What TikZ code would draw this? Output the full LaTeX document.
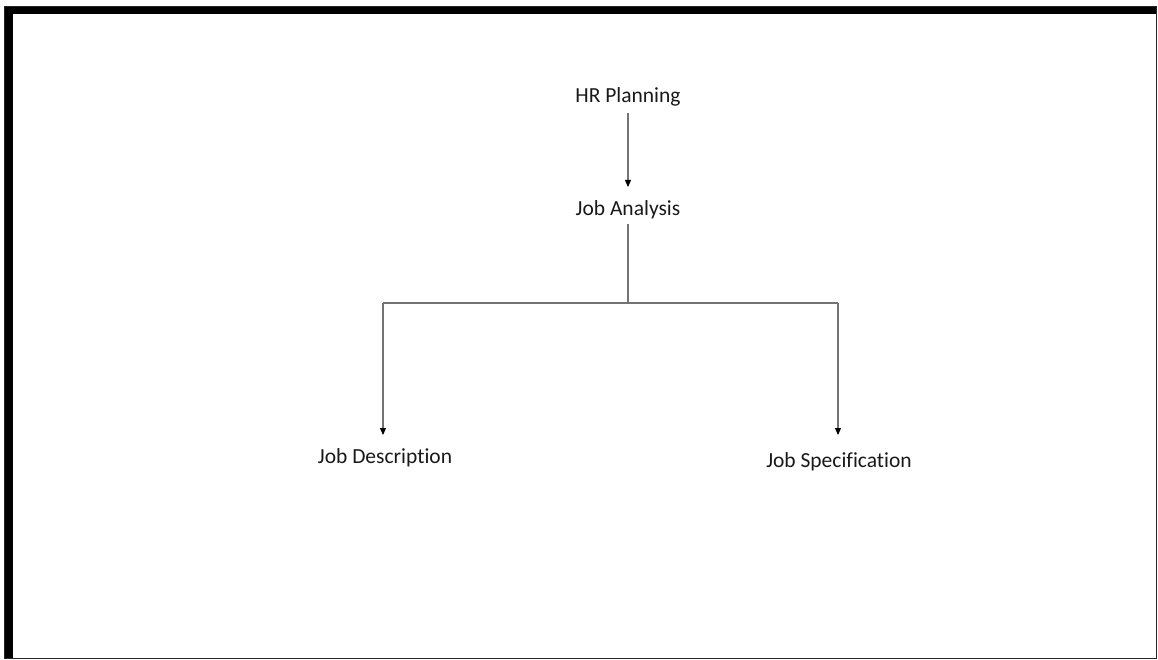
\documentclass[tikz,border=0pt]{standalone}
\usepackage{fontspec}
\setmainfont{Carlito}[Ligatures=NoCommon]
\usetikzlibrary{arrows.meta}
\begin{document}
\begin{tikzpicture}[x=1pt,y=-1pt,
  lbl/.style={inner sep=0pt, font=\fontsize{21.5}{25}\selectfont, text=black!90, anchor=base},
  conn/.style={draw=black!55, line width=1.1pt},
  arr/.style={conn, -{Triangle[width=6pt,length=7pt,fill=black,color=black]}}]
\useasboundingbox (0,0) rectangle (1158,660);
% frame
\draw[black!85, line width=1.4pt] (5,7) rectangle (1156.3,658.3);
\fill[black] (5,7) rectangle (1156,14.5);
\fill[black] (5,7) rectangle (12.5,658);
% nodes
\node[lbl] (hr) at (628,103) {HR Planning};
\node[lbl] (ja) at (628,215.7) {Job Analysis};
\node[lbl] (jd) at (385,463) {Job Description};
\node[lbl] (js) at (839,467) {Job Specification};
\coordinate (split) at (628,303);
\coordinate (jdtop) at (383,435);
\coordinate (jstop) at (838,435);
% connectors
\draw[arr, shorten <=6pt] (hr.south) -- (628,187);
\draw[conn] (ja.south) ++(0,5) -- (split);
\draw[conn] (split) -- (split -| jdtop);
\draw[conn] (split) -- (split -| jstop);
\draw[arr] (split -| jdtop) -- (jdtop);
\draw[arr] (split -| jstop) -- (jstop);
\end{tikzpicture}
\end{document}
